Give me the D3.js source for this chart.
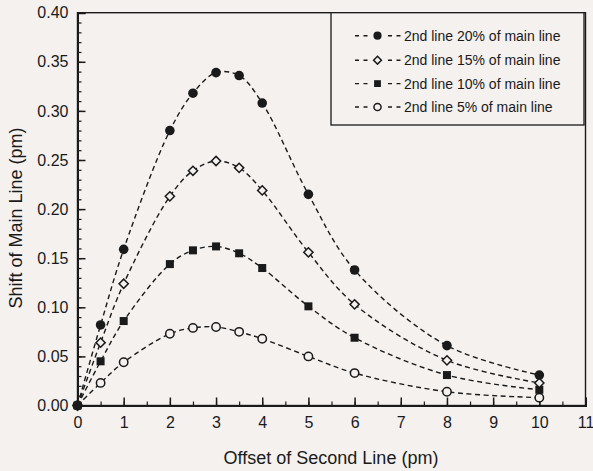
<!DOCTYPE html>
<html>
<head>
<meta charset="utf-8">
<script src="https://cdn.jsdelivr.net/npm/d3@7"></script>
<style>
  html, body { margin: 0; padding: 0; background: #f4f1ef; }
  svg { display: block; font-family: "Liberation Sans", Arial, sans-serif; }
</style>
</head>
<body>
<svg id="chart" width="593" height="471"></svg>
<script>
// ---- data ----
const offsets = [0, 0.5, 1, 2, 2.5, 3, 3.5, 4, 5, 6, 8, 10];
const series20 = [0, 0.082, 0.159, 0.280, 0.318, 0.339, 0.336, 0.308, 0.215, 0.138, 0.061, 0.031];
const series15 = [0, 0.064, 0.124, 0.213, 0.239, 0.249, 0.242, 0.219, 0.156, 0.103, 0.046, 0.023];
const series10 = [0, 0.045, 0.086, 0.144, 0.158, 0.162, 0.155, 0.140, 0.101, 0.069, 0.031, 0.016];
const series5  = [0, 0.023, 0.044, 0.073, 0.079, 0.080, 0.075, 0.068, 0.050, 0.033, 0.014, 0.008];
const seriesNames = ["2nd line 20% of main line", "2nd line 15% of main line",
                     "2nd line 10% of main line", "2nd line 5% of main line"];
const seriesMarkers = ["circleFilled", "diamondOpen", "squareFilled", "circleOpen"];
const xTicks = [0, 1, 2, 3, 4, 5, 6, 7, 8, 9, 10, 11];
const yTicks = [0, 0.05, 0.10, 0.15, 0.20, 0.25, 0.30, 0.35, 0.40];
const xTitle = "Offset of Second Line (pm)";
const yTitle = "Shift of Main Line (pm)";

const allSeries = [series20, series15, series10, series5];

// ---- layout ----
const svg = d3.select("#chart");
const L = 77.5, R = 585.5, T = 12.7, B = 405.5;
const x = d3.scaleLinear().domain([0, 11]).range([L, R]);
const y = d3.scaleLinear().domain([0, 0.4]).range([B, T]);
const ink = "#1a1a1a";
const bg = "#f4f1ef";

// frame
svg.append("rect").attr("x", L).attr("y", T).attr("width", R - L).attr("height", B - T)
  .attr("fill", "none").attr("stroke", ink).attr("stroke-width", 1.4);

// y axis minor
svg.append("g").attr("transform", `translate(${L},0)`)
  .call(d3.axisLeft(y).tickValues(d3.range(0, 41).map(i => i / 100)).tickSize(-4).tickFormat(""))
  .call(g => g.select(".domain").remove())
  .call(g => g.selectAll("line").attr("stroke", ink).attr("stroke-width", 1.2));
// y axis major
svg.append("g").attr("transform", `translate(${L},0)`)
  .call(d3.axisLeft(y).tickValues(yTicks).tickSize(-8).tickPadding(9).tickFormat(d3.format(".2f")))
  .call(g => g.select(".domain").attr("stroke", ink).attr("stroke-width", 2))
  .call(g => g.selectAll("line").attr("stroke", ink).attr("stroke-width", 1.5))
  .call(g => g.selectAll("text").attr("font-size", 16).attr("fill", ink)
    .attr("font-family", "'Liberation Sans', Arial, sans-serif"));

// x axis minor
svg.append("g").attr("transform", `translate(0,${B})`)
  .call(d3.axisBottom(x).tickValues(d3.range(0, 22).map(i => i / 2)).tickSize(-4).tickFormat(""))
  .call(g => g.select(".domain").remove())
  .call(g => g.selectAll("line").attr("stroke", ink).attr("stroke-width", 1.2));
// x axis major
svg.append("g").attr("transform", `translate(0,${B})`)
  .call(d3.axisBottom(x).tickValues(xTicks).tickSize(-8).tickPadding(11).tickFormat(d3.format("d")))
  .call(g => g.select(".domain").attr("stroke", ink).attr("stroke-width", 2))
  .call(g => g.selectAll("line").attr("stroke", ink).attr("stroke-width", 1.5))
  .call(g => g.selectAll("text").attr("font-size", 16).attr("fill", ink)
    .attr("font-family", "'Liberation Sans', Arial, sans-serif"));

// titles
svg.append("text").attr("x", 331).attr("y", 464).attr("text-anchor", "middle")
  .attr("font-size", 18).attr("fill", ink).text(xTitle);
svg.append("text").attr("transform", "translate(16,218) rotate(-90)").attr("text-anchor", "middle")
  .attr("dy", "0.35em").attr("font-size", 18).attr("fill", ink).text(yTitle);

// marker drawing
function drawMarker(g, type, cx, cy, s) {
  if (type === "circleFilled") {
    g.append("circle").attr("cx", cx).attr("cy", cy).attr("r", 4.8 * s).attr("fill", ink);
  } else if (type === "circleOpen") {
    g.append("circle").attr("cx", cx).attr("cy", cy).attr("r", 4.2 * s)
      .attr("fill", bg).attr("stroke", ink).attr("stroke-width", 1.5);
  } else if (type === "squareFilled") {
    const h = 4 * s;
    g.append("rect").attr("x", cx - h).attr("y", cy - h).attr("width", 2 * h).attr("height", 2 * h).attr("fill", ink);
  } else if (type === "diamondOpen") {
    const h = 4.6 * s;
    g.append("path").attr("d", `M${cx},${cy - h}L${cx + h},${cy}L${cx},${cy + h}L${cx - h},${cy}Z`)
      .attr("fill", bg).attr("stroke", ink).attr("stroke-width", 1.5);
  }
}

// lines
const line = d3.line().x(d => x(d[0])).y(d => y(d[1])).curve(d3.curveCatmullRom.alpha(0.5));
allSeries.forEach((vals, i) => {
  const pts = offsets.map((o, j) => [o, vals[j]]);
  svg.append("path").attr("d", line(pts)).attr("fill", "none")
    .attr("stroke", ink).attr("stroke-width", 1.4).attr("stroke-dasharray", "5,3.5");
});
// markers drawn in reverse so top series on top
const mg = svg.append("g");
[3, 2, 1, 0].forEach(i => {
  offsets.forEach((o, j) => drawMarker(mg, seriesMarkers[i], x(o), y(allSeries[i][j]), 1));
});

// legend
const lg = svg.append("g");
lg.append("rect").attr("x", 331).attr("y", T).attr("width", 253).attr("height", 125 - T)
  .attr("fill", bg).attr("stroke", ink).attr("stroke-width", 1.3);
const legendY = [35.7, 60.2, 83.6, 107];
seriesNames.forEach((name, i) => {
  const yy = legendY[i];
  [[355, 368], [388, 401]].forEach(([a, b]) => {
    lg.append("line").attr("x1", a).attr("x2", b).attr("y1", yy).attr("y2", yy)
      .attr("stroke", ink).attr("stroke-width", 1.4).attr("stroke-dasharray", "4,4.5");
  });
  drawMarker(lg, seriesMarkers[i], 377.5, yy, 0.85);
  lg.append("text").attr("x", 404).attr("y", yy).attr("dy", "0.36em")
    .attr("font-size", 14).attr("fill", ink).text(name);
});
</script>
</body>
</html>
